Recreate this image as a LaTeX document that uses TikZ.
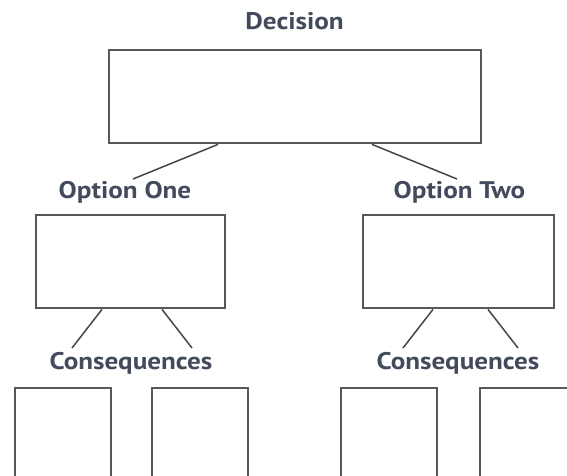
\documentclass[tikz,border=0pt]{standalone}
\usepackage{fontspec}
\setmainfont{PT Sans}
\newfontfamily\lblfont[FakeStretch=1.13]{PT Sans}
\definecolor{boxgray}{RGB}{88,88,88}
\definecolor{linegray}{RGB}{70,70,70}
\definecolor{labelcol}{RGB}{66,74,92}
\tikzset{
  box/.style={draw=boxgray, line width=2.8pt, rectangle, inner sep=0pt, fill=none},
  lbl/.style={text=labelcol, font=\lblfont\bfseries\fontsize{24}{28}\selectfont, inner sep=0pt, anchor=base},
  conn/.style={draw=linegray, line width=1.5pt}
}
\begin{document}
\begin{tikzpicture}[x=1pt,y=-1pt]
\useasboundingbox (0,0) rectangle (567,476);
\clip (0,0) rectangle (567,476);
% labels
\node[lbl] (declbl) at (294.5,30) {Decision};
\node[lbl] (o1lbl) at (125,198) {Option One};
\node[lbl] (o2lbl) at (459.5,198) {Option Two};
\node[lbl] (c1lbl) at (131,369) {Consequences};
\node[lbl] (c2lbl) at (458,369) {Consequences};
% boxes
\node[box, minimum width=372pt, minimum height=93pt] (dec) at (295,96.5) {};
\node[box, minimum width=189pt, minimum height=93pt] (o1) at (130.5,261.5) {};
\node[box, minimum width=191pt, minimum height=93pt] (o2) at (458.5,261.5) {};
\node[box, minimum width=96pt, minimum height=130pt] (c11) at (63,453) {};
\node[box, minimum width=96pt, minimum height=130pt] (c12) at (200,453) {};
\node[box, minimum width=96pt, minimum height=130pt] (c21) at (389,453) {};
\node[box, minimum width=96pt, minimum height=130pt] (c22) at (528,453) {};
% connectors
\coordinate (e1) at (133,179);
\coordinate (e2) at (457,179);
\coordinate (e3) at (72,348);
\coordinate (e4) at (192,348);
\coordinate (e5) at (403,348);
\coordinate (e6) at (518,348);
\draw[conn] ([xshift=-77pt]dec.south) -- (e1);
\draw[conn] ([xshift=77pt]dec.south) -- (e2);
\draw[conn] ([xshift=-28.5pt]o1.south) -- (e3);
\draw[conn] ([xshift=31.5pt]o1.south) -- (e4);
\draw[conn] ([xshift=-25.5pt]o2.south) -- (e5);
\draw[conn] ([xshift=29.5pt]o2.south) -- (e6);
\end{tikzpicture}
\end{document}
